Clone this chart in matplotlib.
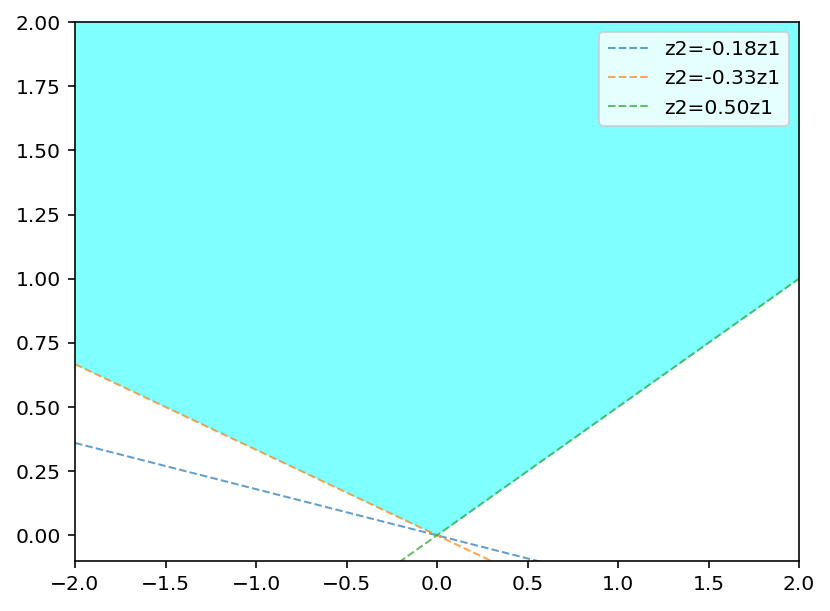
import numpy as np
from matplotlib import pyplot as plt

# slopes of the lines z2 = k * z1
slopes = [-0.18, -1 / 3, 0.5]
labels = ['z2=-0.18z1', 'z2=-0.33z1', 'z2=0.50z1']
colors = ['tab:blue', 'tab:orange', 'tab:green']

z1 = np.linspace(-2, 2, 401)

fig = plt.figure(figsize=(830 / 146, 611 / 146), dpi=146)
ax = fig.add_axes([75 / 830, 1 - 561 / 611, 724 / 830, 539 / 611])

for k, lab, c in zip(slopes, labels, colors):
    ax.plot(z1, k * z1, '--', color=c, alpha=0.7, linewidth=1, label=lab)

# feasible region above the upper envelope of the lines
lower = np.max([k * z1 for k in slopes], axis=0)
ax.fill_between(z1, lower, 2, color='cyan', alpha=0.5, linewidth=0)

ax.set_xlim(-2, 2)
ax.set_ylim(-0.1, 2)
ax.legend(loc='upper right')

fig.savefig('out.png', dpi=146)
